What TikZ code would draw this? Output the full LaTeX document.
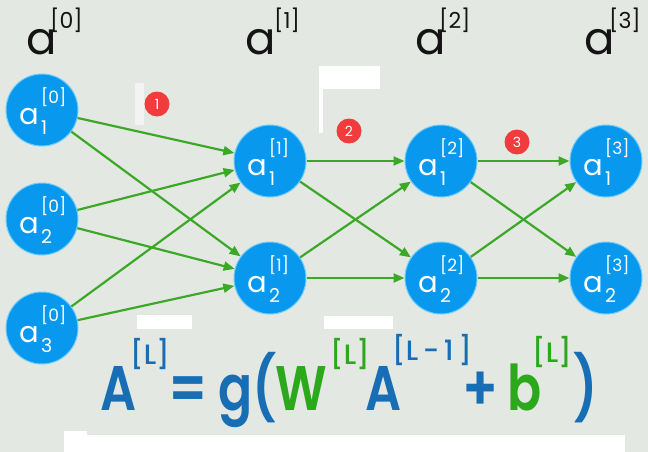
\documentclass[tikz,border=0pt]{standalone}
\usepackage{fontspec}
\setmainfont{Poppins}
\newfontfamily\popsb{Poppins SemiBold}
\newfontfamily\popm{Poppins Medium}
\usetikzlibrary{arrows.meta}
\definecolor{bg}{RGB}{228,232,226}
\definecolor{nblue}{RGB}{8,152,238}
\definecolor{nedge}{RGB}{110,205,250}
\definecolor{egreen}{RGB}{60,168,40}
\definecolor{fblue}{RGB}{24,110,180}
\definecolor{fgreen}{RGB}{44,168,28}
\definecolor{bred}{RGB}{240,60,60}
\definecolor{pale}{RGB}{242,243,242}
\newcommand\neuron[5]{%
  \node[neuron] (#1) at (#2,#3) {};
  \node[nmain] (#1-a) at (#2-23,#3+14) {a};
  \node[nsup] (#1-sup) at (#2-1,#3-3) {[#4]};
  \node[nsub] (#1-sub) at (#2-1,#3+24) {#5};
}
\newcommand\layerlab[4]{%
  \node[lmain] (#1-a) at (#2,55) {a};
  \node[lsup] (#1-sup) at (#3,33) {[#4]};
}
\begin{document}
\begin{tikzpicture}[x=1pt,y=-1pt,
  neuron/.style={circle,minimum size=72pt,inner sep=0pt,fill=nblue,draw=nedge,line width=1pt},
  nmain/.style={anchor=base west,inner sep=0pt,text=white,font=\fontsize{29}{29}\selectfont},
  nsup/.style={anchor=south west,inner sep=0pt,text=white,font=\fontsize{17}{17}\selectfont},
  nsub/.style={anchor=base west,inner sep=0pt,text=white,font=\fontsize{19}{19}\selectfont},
  lmain/.style={anchor=base west,inner sep=0pt,text=black!92,font=\fontsize{45}{45}\selectfont},
  lsup/.style={anchor=south west,inner sep=0pt,text=black!92,font=\fontsize{22}{22}\selectfont},
  conn/.style={draw=egreen,line width=2.2pt,-{Triangle[length=11pt,width=9pt]}},
  badge/.style={circle,fill=bred,minimum size=25pt,inner sep=0pt,text=white,font=\fontsize{14}{14}\selectfont},
  fglyph/.style={anchor=base west,inner sep=0pt,font=\popsb\fontsize{63}{63}\selectfont},
  fsup/.style={anchor=south west,inner sep=0pt,font=\popm\fontsize{28}{28}\selectfont}]
\useasboundingbox (0,0) rectangle (648,452);
\fill[bg] (0,0) rectangle (648,452);
% layer labels
\layerlab{L0}{26}{50}{0}
\layerlab{L1}{245}{274}{1}
\layerlab{L2}{415}{439}{2}
\layerlab{L3}{584}{609}{3}
% neurons
\neuron{n01}{42}{110}{0}{1}
\neuron{n02}{42}{219}{0}{2}
\neuron{n03}{42}{328}{0}{3}
\neuron{n11}{270}{161}{1}{1}
\neuron{n12}{270}{278}{1}{2}
\neuron{n21}{441}{161}{2}{1}
\neuron{n22}{441}{278}{2}{2}
\neuron{n31}{606}{161}{3}{1}
\neuron{n32}{606}{278}{3}{2}
% connections
\foreach \s in {n01,n02,n03} \foreach \t in {n11,n12} \draw[conn] (\s) -- (\t);
\foreach \s in {n11,n12} \foreach \t in {n21,n22} \draw[conn] (\s) -- (\t);
\foreach \s in {n21,n22} \foreach \t in {n31,n32} \draw[conn] (\s) -- (\t);
% badges
\node[badge] (b1) at (157,104) {1};
\node[badge] (b2) at (349,131) {2};
\node[badge] (b3) at (517,142) {3};
% formula
\node[fglyph,text=fblue] (fA1) at (100,410) {\scalebox{0.8}[1]{A}};
\node[fsup,text=fblue] (fS1) at (130,370) {[L]};
\node[fglyph,text=fblue] (fEq) at (168,410) {\scalebox{0.85}[1]{=}};
\node[fglyph,text=fblue] (fg) at (218,410) {\scalebox{0.8}[1]{g}};
\node[fglyph,text=fblue] (fLp) at (252,410) {\scalebox{0.8}[1]{(}};
\node[fglyph,text=fgreen] (fW) at (275,410) {\scalebox{0.8}[1]{W}};
\node[fsup,text=fgreen] (fS2) at (330,370) {[L]};
\node[fglyph,text=fblue] (fA2) at (365,410) {\scalebox{0.8}[1]{A}};
\node[fsup,text=fblue] (fS3) at (392,366) {[L\,-\,1\,]};
\node[fglyph,text=fblue] (fPl) at (462,410) {\scalebox{0.85}[1]{+}};
\node[fglyph,text=fgreen] (fb) at (507,410) {\scalebox{0.8}[1]{b}};
\node[fsup,text=fgreen] (fS4) at (532,368) {[L]};
\node[fglyph,text=fblue] (fRp) at (573,410) {\scalebox{0.8}[1]{)}};
% overlay artifacts
\fill[white] (319,66) rectangle (380,89);
\fill[white] (319,89) rectangle (323,133);
\fill[pale] (135,83) rectangle (144,125);
\fill[white] (137,315) rectangle (192,329);
\fill[white] (324,316) rectangle (393,329);
\fill[white] (64,431) rectangle (87,436);
\fill[white] (64,435) rectangle (625,452);
\end{tikzpicture}
\end{document}
